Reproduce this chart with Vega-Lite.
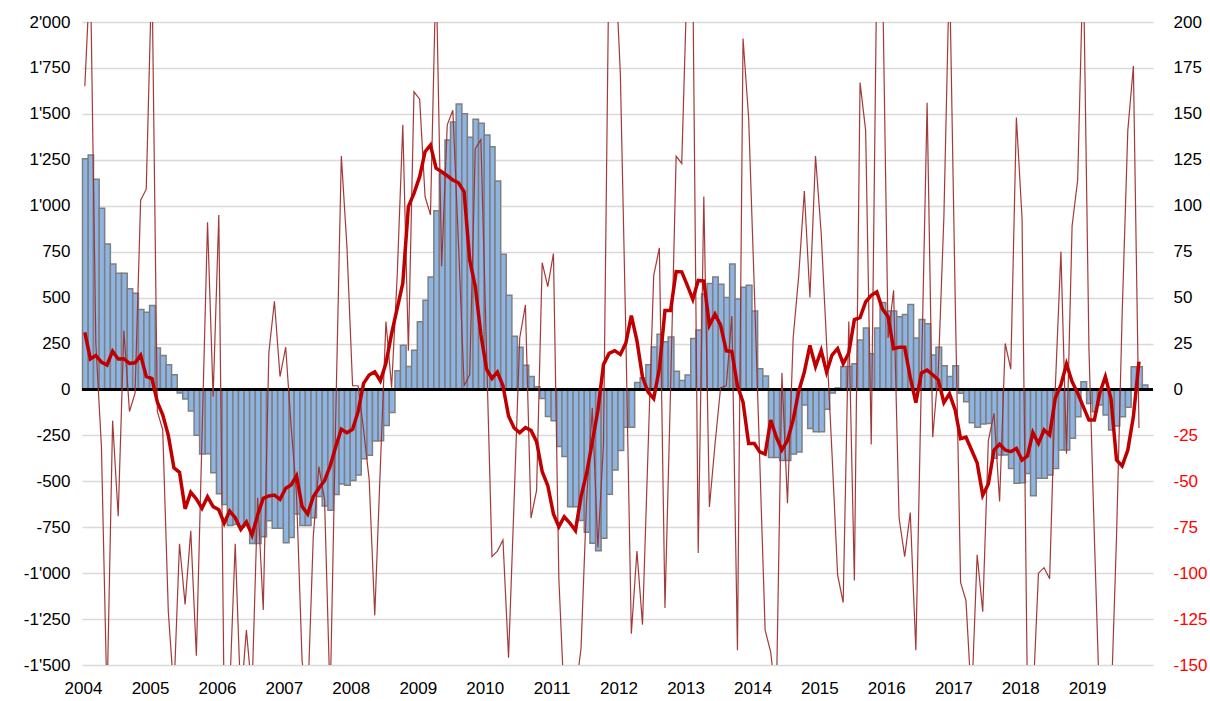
{
"$schema":"https://vega.github.io/schema/vega-lite/v6.json",
"width":1071,"height":643,
"autosize":{"type":"none"},
"padding":{"left":82,"top":22,"right":57,"bottom":36},
"background":"#ffffff",
"config":{"view":{"stroke":null},"font":"Liberation Sans","axis":{"labelFont":"Liberation Sans","labelFontSize":17,"labelColor":"#000000","domain":false,"ticks":false,"title":null}},
"data":{"values":[
{"d":"2004-01-01","b":1256,"t":31,"n":165},{"d":"2004-02-01","b":1276,"t":16.6,"n":230},{"d":"2004-03-01","b":1144,"t":18.5,"n":25},{"d":"2004-04-01","b":986,"t":14.9,"n":-31},{"d":"2004-05-01","b":791,"t":13.3,"n":-170},{"d":"2004-06-01","b":683,"t":20.8,"n":-17},{"d":"2004-07-01","b":633,"t":16.6,"n":-69},{"d":"2004-08-01","b":633,"t":16.7,"n":32},{"d":"2004-09-01","b":548,"t":14.2,"n":-12},{"d":"2004-10-01","b":523,"t":14.5,"n":-2},{"d":"2004-11-01","b":435,"t":18.6,"n":103},{"d":"2004-12-01","b":420,"t":7.1,"n":109},
{"d":"2005-01-01","b":457,"t":5.9,"n":230},{"d":"2005-02-01","b":225,"t":-6.8,"n":-12},{"d":"2005-03-01","b":185,"t":-13.8,"n":-22},{"d":"2005-04-01","b":134,"t":-25,"n":-121},{"d":"2005-05-01","b":80,"t":-42.7,"n":-165},{"d":"2005-06-01","b":-20,"t":-45.1,"n":-84},{"d":"2005-07-01","b":-52,"t":-65,"n":-117},{"d":"2005-08-01","b":-117,"t":-56,"n":-77},{"d":"2005-09-01","b":-249,"t":-59.6,"n":-145},{"d":"2005-10-01","b":-352,"t":-64.7,"n":-27},{"d":"2005-11-01","b":-350,"t":-58.4,"n":91},{"d":"2005-12-01","b":-453,"t":-63.8,"n":-4},
{"d":"2006-01-01","b":-568,"t":-65.5,"n":95},{"d":"2006-02-01","b":-626,"t":-72.8,"n":-175},{"d":"2006-03-01","b":-740,"t":-66.2,"n":-165},{"d":"2006-04-01","b":-735,"t":-69.8,"n":-84},{"d":"2006-05-01","b":-750,"t":-76.2,"n":-170},{"d":"2006-06-01","b":-741,"t":-72.1,"n":-131},{"d":"2006-07-01","b":-838,"t":-79.2,"n":-165},{"d":"2006-08-01","b":-838,"t":-68.3,"n":-59},{"d":"2006-09-01","b":-802,"t":-59.3,"n":-120},{"d":"2006-10-01","b":-715,"t":-58,"n":20},{"d":"2006-11-01","b":-756,"t":-57.5,"n":48},{"d":"2006-12-01","b":-756,"t":-59.8,"n":7},
{"d":"2007-01-01","b":-834,"t":-53.8,"n":23},{"d":"2007-02-01","b":-806,"t":-52,"n":-20},{"d":"2007-03-01","b":-678,"t":-47.1,"n":-57},{"d":"2007-04-01","b":-740,"t":-63.8,"n":-148},{"d":"2007-05-01","b":-740,"t":-67.8,"n":-170},{"d":"2007-06-01","b":-698,"t":-58.4,"n":-80},{"d":"2007-07-01","b":-583,"t":-53.8,"n":-42},{"d":"2007-08-01","b":-635,"t":-49.7,"n":-60},{"d":"2007-09-01","b":-657,"t":-41.7,"n":-170},{"d":"2007-10-01","b":-572,"t":-31.2,"n":-15},{"d":"2007-11-01","b":-515,"t":-21.7,"n":127},{"d":"2007-12-01","b":-522,"t":-23.6,"n":78},
{"d":"2008-01-01","b":-496,"t":-21.7,"n":2},{"d":"2008-02-01","b":-466,"t":-12.1,"n":2},{"d":"2008-03-01","b":-378,"t":3.3,"n":-22},{"d":"2008-04-01","b":-358,"t":7.8,"n":-49},{"d":"2008-05-01","b":-281,"t":9.6,"n":-123},{"d":"2008-06-01","b":-280,"t":4.7,"n":-42},{"d":"2008-07-01","b":-197,"t":14.2,"n":37},{"d":"2008-08-01","b":-126,"t":30.5,"n":1},{"d":"2008-09-01","b":101,"t":44.1,"n":62},{"d":"2008-10-01","b":240,"t":57.8,"n":144},{"d":"2008-11-01","b":125,"t":99.5,"n":21},{"d":"2008-12-01","b":213,"t":106.7,"n":162},
{"d":"2009-01-01","b":369,"t":115.8,"n":158},{"d":"2009-02-01","b":485,"t":129.4,"n":105},{"d":"2009-03-01","b":612,"t":133,"n":95},{"d":"2009-04-01","b":973,"t":120.4,"n":230},{"d":"2009-05-01","b":1175,"t":118.5,"n":67},{"d":"2009-06-01","b":1358,"t":116.3,"n":144},{"d":"2009-07-01","b":1455,"t":114,"n":152},{"d":"2009-08-01","b":1553,"t":112.5,"n":79},{"d":"2009-09-01","b":1500,"t":107.6,"n":2},{"d":"2009-10-01","b":1372,"t":70.4,"n":8},{"d":"2009-11-01","b":1471,"t":56,"n":131},{"d":"2009-12-01","b":1449,"t":30,"n":136},
{"d":"2010-01-01","b":1385,"t":11,"n":20},{"d":"2010-02-01","b":1321,"t":6,"n":-91},{"d":"2010-03-01","b":1135,"t":9.5,"n":-88},{"d":"2010-04-01","b":736,"t":2,"n":-82},{"d":"2010-05-01","b":513,"t":-14.5,"n":-146},{"d":"2010-06-01","b":290,"t":-21,"n":-60},{"d":"2010-07-01","b":229,"t":-23.5,"n":28},{"d":"2010-08-01","b":131,"t":-20.8,"n":46},{"d":"2010-09-01","b":71,"t":-22.3,"n":-70},{"d":"2010-10-01","b":15,"t":-28.4,"n":-55},{"d":"2010-11-01","b":-50,"t":-44.7,"n":69},{"d":"2010-12-01","b":-148,"t":-52.3,"n":56},
{"d":"2011-01-01","b":-171,"t":-67.8,"n":74},{"d":"2011-02-01","b":-311,"t":-74.7,"n":-103},{"d":"2011-03-01","b":-365,"t":-69.3,"n":-170},{"d":"2011-04-01","b":-638,"t":-72.7,"n":-170},{"d":"2011-05-01","b":-638,"t":-76.8,"n":-165},{"d":"2011-06-01","b":-713,"t":-58.4,"n":-141},{"d":"2011-07-01","b":-778,"t":-45.6,"n":-60},{"d":"2011-08-01","b":-837,"t":-28.6,"n":-10},{"d":"2011-09-01","b":-878,"t":-11.5,"n":-86},{"d":"2011-10-01","b":-810,"t":13.5,"n":-30},{"d":"2011-11-01","b":-570,"t":19.6,"n":240},{"d":"2011-12-01","b":-439,"t":21.1,"n":240},
{"d":"2012-01-01","b":-333,"t":19,"n":172},{"d":"2012-02-01","b":-206,"t":25.2,"n":30},{"d":"2012-03-01","b":-206,"t":40.2,"n":-133},{"d":"2012-04-01","b":38,"t":26.6,"n":-88},{"d":"2012-05-01","b":63,"t":6.6,"n":-128},{"d":"2012-06-01","b":135,"t":-1.5,"n":-32},{"d":"2012-07-01","b":231,"t":-5,"n":62},{"d":"2012-08-01","b":300,"t":11.3,"n":77},{"d":"2012-09-01","b":259,"t":43,"n":-119},{"d":"2012-10-01","b":285,"t":43,"n":0},{"d":"2012-11-01","b":99,"t":64.2,"n":127},{"d":"2012-12-01","b":48,"t":64,"n":123},
{"d":"2013-01-01","b":78,"t":56.5,"n":230},{"d":"2013-02-01","b":277,"t":49,"n":225},{"d":"2013-03-01","b":323,"t":59.3,"n":-89},{"d":"2013-04-01","b":519,"t":59,"n":105},{"d":"2013-05-01","b":577,"t":35,"n":-64},{"d":"2013-06-01","b":612,"t":41,"n":-30},{"d":"2013-07-01","b":572,"t":35,"n":1},{"d":"2013-08-01","b":501,"t":21,"n":2},{"d":"2013-09-01","b":683,"t":20.6,"n":40},{"d":"2013-10-01","b":492,"t":2,"n":-142},{"d":"2013-11-01","b":556,"t":-6.9,"n":191},{"d":"2013-12-01","b":567,"t":-29.4,"n":148},
{"d":"2014-01-01","b":427,"t":-29.4,"n":55},{"d":"2014-02-01","b":113,"t":-34,"n":-38},{"d":"2014-03-01","b":73,"t":-35.2,"n":-131},{"d":"2014-04-01","b":-371,"t":-16.6,"n":-143},{"d":"2014-05-01","b":-371,"t":-25.9,"n":-170},{"d":"2014-06-01","b":-387,"t":-32.9,"n":9},{"d":"2014-07-01","b":-387,"t":-27.8,"n":-62},{"d":"2014-08-01","b":-352,"t":-16.6,"n":28},{"d":"2014-09-01","b":-341,"t":-1,"n":62},{"d":"2014-10-01","b":-85,"t":9.5,"n":108},{"d":"2014-11-01","b":-212,"t":24,"n":50},{"d":"2014-12-01","b":-231,"t":12.4,"n":127},
{"d":"2015-01-01","b":-231,"t":21.2,"n":85},{"d":"2015-02-01","b":-108,"t":9.4,"n":25},{"d":"2015-03-01","b":-20,"t":18.7,"n":-35},{"d":"2015-04-01","b":8,"t":22.2,"n":-101},{"d":"2015-05-01","b":125,"t":14,"n":-116},{"d":"2015-06-01","b":125,"t":19.8,"n":37},{"d":"2015-07-01","b":140,"t":38,"n":-104},{"d":"2015-08-01","b":269,"t":39.1,"n":167},{"d":"2015-09-01","b":334,"t":47.7,"n":141},{"d":"2015-10-01","b":194,"t":51.2,"n":-30},{"d":"2015-11-01","b":334,"t":53.1,"n":230},{"d":"2015-12-01","b":473,"t":43.8,"n":230},
{"d":"2016-01-01","b":427,"t":39.6,"n":28},{"d":"2016-02-01","b":427,"t":22.2,"n":54},{"d":"2016-03-01","b":396,"t":22.9,"n":-70},{"d":"2016-04-01","b":408,"t":22.9,"n":-91},{"d":"2016-05-01","b":462,"t":6.6,"n":-67},{"d":"2016-06-01","b":280,"t":-7.2,"n":-142},{"d":"2016-07-01","b":380,"t":9,"n":7},{"d":"2016-08-01","b":357,"t":10.5,"n":156},{"d":"2016-09-01","b":187,"t":8,"n":-26},{"d":"2016-10-01","b":229,"t":5.2,"n":10},{"d":"2016-11-01","b":129,"t":-7.2,"n":94},{"d":"2016-12-01","b":71,"t":-2.4,"n":230},
{"d":"2017-01-01","b":129,"t":-11.2,"n":50},{"d":"2017-02-01","b":-21,"t":-26.8,"n":-105},{"d":"2017-03-01","b":-67,"t":-26,"n":-115},{"d":"2017-04-01","b":-181,"t":-33,"n":-170},{"d":"2017-05-01","b":-206,"t":-40,"n":-90},{"d":"2017-06-01","b":-188,"t":-57.6,"n":-121},{"d":"2017-07-01","b":-185,"t":-51.5,"n":-28},{"d":"2017-08-01","b":-375,"t":-33,"n":-13},{"d":"2017-09-01","b":-357,"t":-29.9,"n":-61},{"d":"2017-10-01","b":-357,"t":-33,"n":25},{"d":"2017-11-01","b":-430,"t":-33.9,"n":11},{"d":"2017-12-01","b":-511,"t":-32.1,"n":148},
{"d":"2018-01-01","b":-508,"t":-38.4,"n":93},{"d":"2018-02-01","b":-457,"t":-36.2,"n":-170},{"d":"2018-03-01","b":-579,"t":-23.5,"n":-170},{"d":"2018-04-01","b":-484,"t":-29.4,"n":-100},{"d":"2018-05-01","b":-484,"t":-22.1,"n":-97},{"d":"2018-06-01","b":-466,"t":-24.8,"n":-103},{"d":"2018-07-01","b":-430,"t":-4.9,"n":0},{"d":"2018-08-01","b":-330,"t":2.4,"n":75},{"d":"2018-09-01","b":-330,"t":13.8,"n":-35},{"d":"2018-10-01","b":-266,"t":4.2,"n":89},{"d":"2018-11-01","b":-149,"t":-2.1,"n":114},{"d":"2018-12-01","b":42,"t":-9.4,"n":235},
{"d":"2019-01-01","b":-76,"t":-16.7,"n":22},{"d":"2019-02-01","b":-121,"t":-16.7,"n":-80},{"d":"2019-03-01","b":-85,"t":-2.1,"n":-175},{"d":"2019-04-01","b":-139,"t":7,"n":-175},{"d":"2019-05-01","b":-221,"t":-4.9,"n":-175},{"d":"2019-06-01","b":-199,"t":-38.4,"n":-80},{"d":"2019-07-01","b":-149,"t":-41.7,"n":40},{"d":"2019-08-01","b":-97,"t":-33,"n":141},{"d":"2019-09-01","b":124,"t":-14.8,"n":176},{"d":"2019-10-01","b":124,"t":15.1,"n":-21},{"d":"2019-11-01","b":24,"t":null,"n":null}
]},
"layer":[
{"layer":[
{"mark":{"type":"bar","fill":"#8DB4E2","stroke":"#7F7F7F","strokeWidth":1.5,"binSpacing":0},
"encoding":{
"x":{"field":"d","type":"temporal","timeUnit":"utcyearmonth","scale":{"type":"utc","domain":[{"year":2004,"month":1,"date":1,"utc":true},{"year":2020,"month":1,"date":1,"utc":true}]},
"axis":{"values":[{"year":2004,"month":1,"date":1,"utc":true},{"year":2005,"month":1,"date":1,"utc":true},{"year":2006,"month":1,"date":1,"utc":true},{"year":2007,"month":1,"date":1,"utc":true},{"year":2008,"month":1,"date":1,"utc":true},{"year":2009,"month":1,"date":1,"utc":true},{"year":2010,"month":1,"date":1,"utc":true},{"year":2011,"month":1,"date":1,"utc":true},{"year":2012,"month":1,"date":1,"utc":true},{"year":2013,"month":1,"date":1,"utc":true},{"year":2014,"month":1,"date":1,"utc":true},{"year":2015,"month":1,"date":1,"utc":true},{"year":2016,"month":1,"date":1,"utc":true},{"year":2017,"month":1,"date":1,"utc":true},{"year":2018,"month":1,"date":1,"utc":true},{"year":2019,"month":1,"date":1,"utc":true}],"labelExpr":"utcFormat(datum.value, '%Y')","grid":false,"labelPadding":15,"labelOffset":1,"labelFlush":false,"labelOverlap":false}},
"y":{"field":"b","type":"quantitative","scale":{"domain":[-1500,2000],"nice":false,"zero":false},
"axis":{"orient":"left","values":[-1500,-1250,-1000,-750,-500,-250,0,250,500,750,1000,1250,1500,1750,2000],"grid":true,"gridColor":"#D9D9D9","gridWidth":1.5,"labelPadding":12,"labelExpr":"(datum.value < 0 ? '-' : '') + replace(format(abs(datum.value), ','), ',', \"'\")"}}}},
{"mark":{"type":"rule","color":"#000000","strokeWidth":2},"encoding":{"y":{"datum":0,"type":"quantitative"}}}
]},
{"layer":[
{"mark":{"type":"line","color":"#9E2F2F","strokeWidth":1.2,"clip":true,"opacity":0.95},
"encoding":{"x":{"field":"d","type":"temporal","timeUnit":"utcyearmonth","bandPosition":0.5},"y":{"field":"n","type":"quantitative"}}},
{"mark":{"type":"line","color":"#C00000","strokeWidth":3.5,"clip":true},
"encoding":{"x":{"field":"d","type":"temporal","timeUnit":"utcyearmonth","bandPosition":0.5},
"y":{"field":"t","type":"quantitative","scale":{"domain":[-150,200],"nice":false,"zero":false},
"axis":{"orient":"right","values":[-150,-125,-100,-75,-50,-25,0,25,50,75,100,125,150,175,200],"grid":false,"labelPadding":20,"labelExpr":"(datum.value < 0 ? '-' : '') + abs(datum.value)","labelColor":{"condition":{"test":"datum.value < 0","value":"#FF0000"},"value":"#000000"}}}}}
]}
],
"resolve":{"scale":{"y":"independent"}}
}
